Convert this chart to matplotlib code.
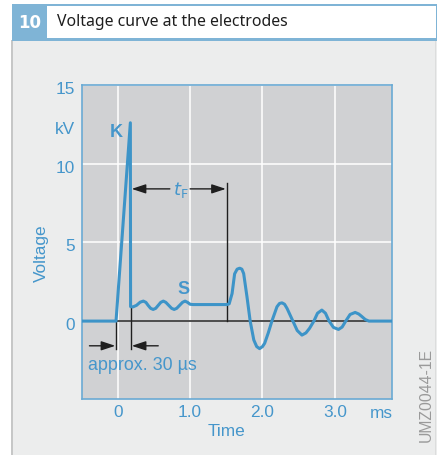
import matplotlib
matplotlib.use("Agg")
import matplotlib.pyplot as plt
from matplotlib.patches import Rectangle
from matplotlib.transforms import ScaledTranslation

W, H, DPI = 438, 455, 100

# ---------------- data ----------------
time_ms = [-0.49, -0.023, 0.175, 0.178, 0.21, 0.26, 0.31, 0.354, 0.39, 0.42,
           0.455, 0.49, 0.525, 0.56, 0.595, 0.63, 0.665, 0.705, 0.745, 0.78,
           0.815, 0.855, 0.895, 0.93, 0.965, 1.0, 1.04, 1.51, 1.54, 1.58,
           1.615, 1.65, 1.685, 1.715, 1.74, 1.786, 1.83, 1.88, 1.92, 1.96,
           2.0, 2.03, 2.08, 2.13, 2.2, 2.235, 2.27, 2.305, 2.34, 2.42,
           2.48, 2.545, 2.6, 2.65, 2.71, 2.76, 2.82, 2.87, 2.92, 2.98,
           3.05, 3.10, 3.15, 3.21, 3.28, 3.33, 3.37, 3.42, 3.47, 3.79]
voltage_kv = [0.0, 0.0, 12.6, 0.92, 0.9, 1.0, 1.2, 1.27, 1.19, 1.0,
              0.81, 0.74, 0.81, 1.0, 1.19, 1.27, 1.19, 1.0, 0.81, 0.74,
              0.81, 1.0, 1.19, 1.27, 1.19, 1.07, 1.05, 1.05, 1.1, 1.75,
              3.0, 3.3, 3.36, 3.3, 3.02, 1.54, 0.0, -1.2, -1.62, -1.75,
              -1.62, -1.41, -0.75, 0.0, 0.91, 1.12, 1.16, 1.07, 0.8, 0.0,
              -0.6, -0.89, -0.75, -0.46, 0.0, 0.5, 0.70, 0.5, 0.0, -0.4,
              -0.53, -0.38, 0.0, 0.42, 0.55, 0.45, 0.3, 0.1, 0.0, 0.0]

x_ticks = [0, 1, 2, 3]
x_tick_labels = ["0", "1.0", "2.0", "3.0"]
y_ticks = [0, 5, 10, 15]
y_tick_labels = ["0", "5", "10", "15"]

# annotation anchors (ms / kV)
spike_start, spike_end = -0.023, 0.184
approx_level, approx_bottom = -1.57, -1.78
tf_start, tf_end, tf_level, tf_top = 0.193, 1.514, 8.4, 8.8

# ---------------- colours ----------------
BLUE_TXT = "#4596CB"
BLUE_LINE = "#3D94C8"
BLUE_SPINE = "#6AAAD4"
HEAD_BLUE = "#7FB4D6"
PANEL = "#D0D1D3"
BODY = "#ECEDED"

fig = plt.figure(figsize=(W / DPI, H / DPI), dpi=DPI)
fig.patch.set_facecolor("white")


def px_rect(x0, y0, x1, y1, **kw):
    """rectangle in pixel coords (origin top-left)"""
    r = Rectangle((x0 / W, 1 - y1 / H), (x1 - x0) / W, (y1 - y0) / H,
                  transform=fig.transFigure, **kw)
    fig.add_artist(r)
    return r


def fx(x):
    return x / W


def fy(y):
    return 1 - y / H


# body and header frame
px_rect(12, 40, 437, 455, facecolor=BODY, edgecolor="none", zorder=0)
px_rect(11, 40, 13, 455, facecolor="#C6C7C7", edgecolor="none", zorder=0.5)
px_rect(434.5, 40, 435.5, 455, facecolor="#DCDDDD", edgecolor="none", zorder=0.5)
px_rect(12, 4, 437, 40, facecolor="white", edgecolor="none", zorder=0.5)
px_rect(12, 4, 437, 6, facecolor=HEAD_BLUE, edgecolor="none", zorder=1)
px_rect(12, 38, 437, 40.5, facecolor=HEAD_BLUE, edgecolor="none", zorder=1)
px_rect(435.5, 4, 437, 40, facecolor=HEAD_BLUE, edgecolor="none", zorder=1)
px_rect(11.5, 4, 47, 40.5, facecolor=HEAD_BLUE, edgecolor="none", zorder=1)
fig.text(fx(29.5), fy(22.5), "10", color="white", fontsize=12,
         fontweight="bold", family="DejaVu Sans", ha="center", va="center")
fig.text(fx(57), fy(22), "Voltage curve at the electrodes", color="#1E1E1E",
         fontsize=11.4, family="Noto Sans", ha="left", va="center")

# ---------------- axes ----------------
ax = fig.add_axes([82 / W, 1 - 399 / H, (392 - 82) / W, (399 - 85) / H])
ax.set_facecolor(PANEL)
ax.set_xlim(-0.493, 3.789)
ax.set_ylim(-4.95, 14.97)
for s in ax.spines.values():
    s.set_color(BLUE_SPINE)
    s.set_linewidth(1.2)
ax.set_xticks(x_ticks)
ax.set_xticklabels(x_tick_labels)
ax.set_yticks(y_ticks)
ax.set_yticklabels(y_tick_labels)
ax.tick_params(length=0, colors=BLUE_TXT, labelsize=12.4, pad=5)
ax.tick_params(axis="x", pad=4.5)
for lab in ax.get_xticklabels() + ax.get_yticklabels():
    lab.set_family("Liberation Sans")
for lab in ax.get_yticklabels():
    lab.set_transform(lab.get_transform() + ScaledTranslation(0, -3 / DPI, fig.dpi_scale_trans))
ax.grid(True, color="white", linewidth=1.1)
ax.set_axisbelow(True)

ax.axhline(0, color="#1F1F1F", linewidth=1.1, zorder=2)
ax.plot(time_ms, voltage_kv, color=BLUE_LINE, linewidth=2.2,
        solid_joinstyle="round", solid_capstyle="round", zorder=4)

# markers for the rise time
ax.plot([spike_start, spike_start], [0, approx_bottom], color="#1F1F1F", lw=1.0, zorder=3)
ax.plot([spike_end, spike_end], [0.9, approx_bottom], color="#1F1F1F", lw=1.0, zorder=3)
arrow_kw = dict(arrowstyle="-|>,head_length=0.85,head_width=0.28", color="#1F1F1F",
                lw=1.0, mutation_scale=10, shrinkA=0, shrinkB=0)
ax.annotate("", xy=(spike_start - 0.01, approx_level), xytext=(-0.39, approx_level),
            arrowprops=arrow_kw, zorder=3)
ax.annotate("", xy=(spike_end + 0.01, approx_level), xytext=(0.56, approx_level),
            arrowprops=arrow_kw, zorder=3)
ax.text(-0.414, -2.79, "approx. 30 \u00b5s", color=BLUE_TXT, fontsize=12.9,
        family="Liberation Sans", ha="left", va="center")

# t_F
ax.plot([tf_end, tf_end], [0, tf_top], color="#1F1F1F", lw=1.0, zorder=3)
ax.annotate("", xy=(tf_start, tf_level), xytext=(0.72, tf_level),
            arrowprops=arrow_kw, zorder=3)
ax.annotate("", xy=(tf_end - 0.02, tf_level), xytext=(1.0, tf_level),
            arrowprops=arrow_kw, zorder=3)
ax.text(0.865, tf_level - 0.1, r"$t_{\mathrm{F}}$", color=BLUE_TXT, fontsize=13,
        ha="center", va="center")

ax.text(-0.017, 12.0, "K", color=BLUE_TXT, fontsize=13, fontweight="bold",
        family="Liberation Sans", ha="center", va="center")
ax.text(0.906, 2.03, "S", color=BLUE_TXT, fontsize=13, fontweight="bold",
        family="Liberation Sans", ha="center", va="center")

# outer labels
fig.text(fx(75), fy(129.3), "kV", color=BLUE_TXT, fontsize=12.4,
         family="Liberation Sans", ha="right", va="center")
fig.text(fx(381), fy(413), "ms", color=BLUE_TXT, fontsize=12.4,
         family="Liberation Sans", ha="center", va="center")
fig.text(fx(41.7), fy(253), "Voltage", color=BLUE_TXT, fontsize=12.4,
         family="Liberation Sans", rotation=90, ha="center", va="center")
fig.text(fx(226.7), fy(431.7), "Time", color=BLUE_TXT, fontsize=12.4,
         family="Liberation Sans", ha="center", va="center")
fig.text(fx(426.7), fy(395), "UMZ0044-1E", color="#9A9A9A", fontsize=11.3,
         family="Liberation Sans", rotation=90, ha="center", va="center")

fig.savefig("out.png", dpi=DPI, facecolor="white")
